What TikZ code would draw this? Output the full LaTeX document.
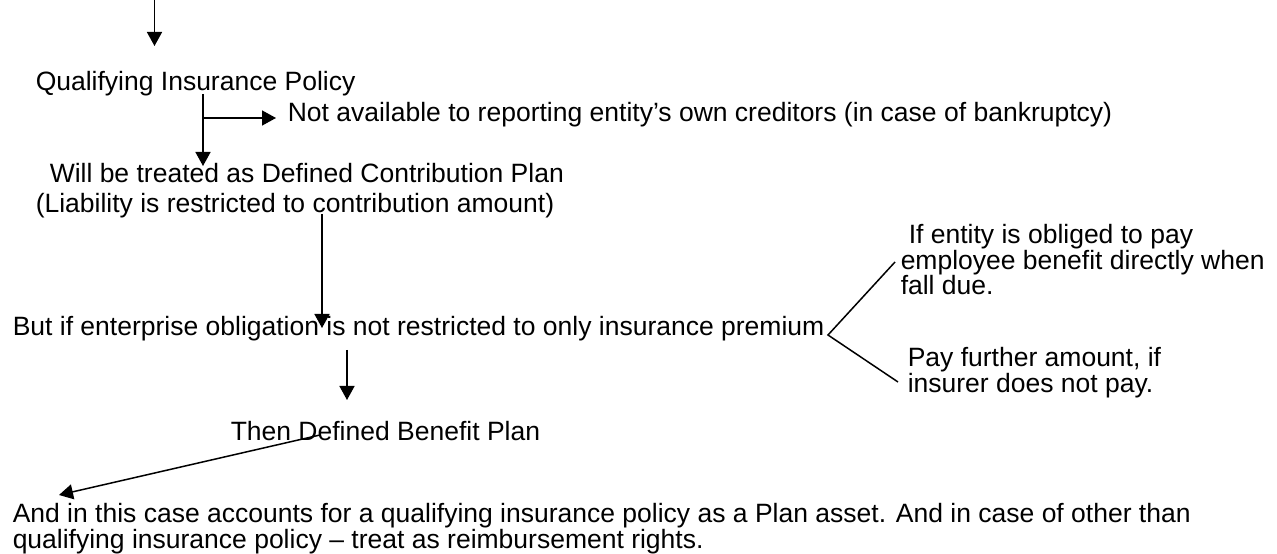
\documentclass[tikz,border=0pt]{standalone}
\usepackage{fontspec}
\setmainfont{Liberation Sans}
\usetikzlibrary{arrows.meta}

\begin{document}
\begin{tikzpicture}[x=1bp, y=-1bp, line width=1.5bp,
    >={Triangle[length=14bp, width=15bp]},
    txt/.style={anchor=base west, inner sep=0pt, align=left,
        font=\fontsize{26.5bp}{25.5bp}\selectfont}]
    \useasboundingbox (0,0) rectangle (1277,554);

    \node[txt] (qip) at (35,91) {Qualifying Insurance Policy};
    \node[txt] (na) at (287,122) {Not available to reporting entity’s own creditors (in case of bankruptcy)};
    \node[txt] (dc) at (49,183) {Will be treated as Defined Contribution Plan};
    \node[txt] (lia) at (35,213) {(Liability is restricted to contribution amount)};
    \node[txt] (but) at (12,336) {But if enterprise obligation is not restricted to only insurance premium};
    % multi-line nodes: base is the last line
    \node[txt] (obl) at (900,295) {\hspace*{8bp}If entity is obliged to pay\\employee benefit directly when\\fall due.};
    \node[txt] (pay) at (907,392) {Pay further amount, if\\insurer does not pay.};
    \node[txt] (db) at (230,440) {Then Defined Benefit Plan};
    \node[txt] (acc) at (12,548) {And in this case accounts for a qualifying insurance policy as a Plan asset. And in case of other than\\qualifying insurance policy -- treat as reimbursement rights.};

    \coordinate (in0) at (154.5,0);
    \coordinate (in1) at (154.5,46);
    \coordinate (q0) at (203,94);
    \coordinate (q1) at (203,166);
    \coordinate (q2) at (203,118);
    \coordinate (q3) at (276,118);
    \coordinate (l0) at (322,214);
    \coordinate (l1) at (322,328);
    \coordinate (b0) at (347,350);
    \coordinate (b1) at (347,400);
    \coordinate (v0) at (828,335);
    \coordinate (v1) at (895,262);
    \coordinate (v2) at (898,382);
    \coordinate (d0) at (320,435);
    \coordinate (d1) at (59,495);

    \draw[->] (in0) -- (in1);
    \draw[->] (q0) -- (q1);
    \draw[->] (q2) -- (q3);
    \draw[->] (l0) -- (l1);
    \draw[->] (b0) -- (b1);
    \draw (v1) -- (v0) -- (v2);
    \draw[->] (d0) -- (d1);
\end{tikzpicture}
\end{document}
